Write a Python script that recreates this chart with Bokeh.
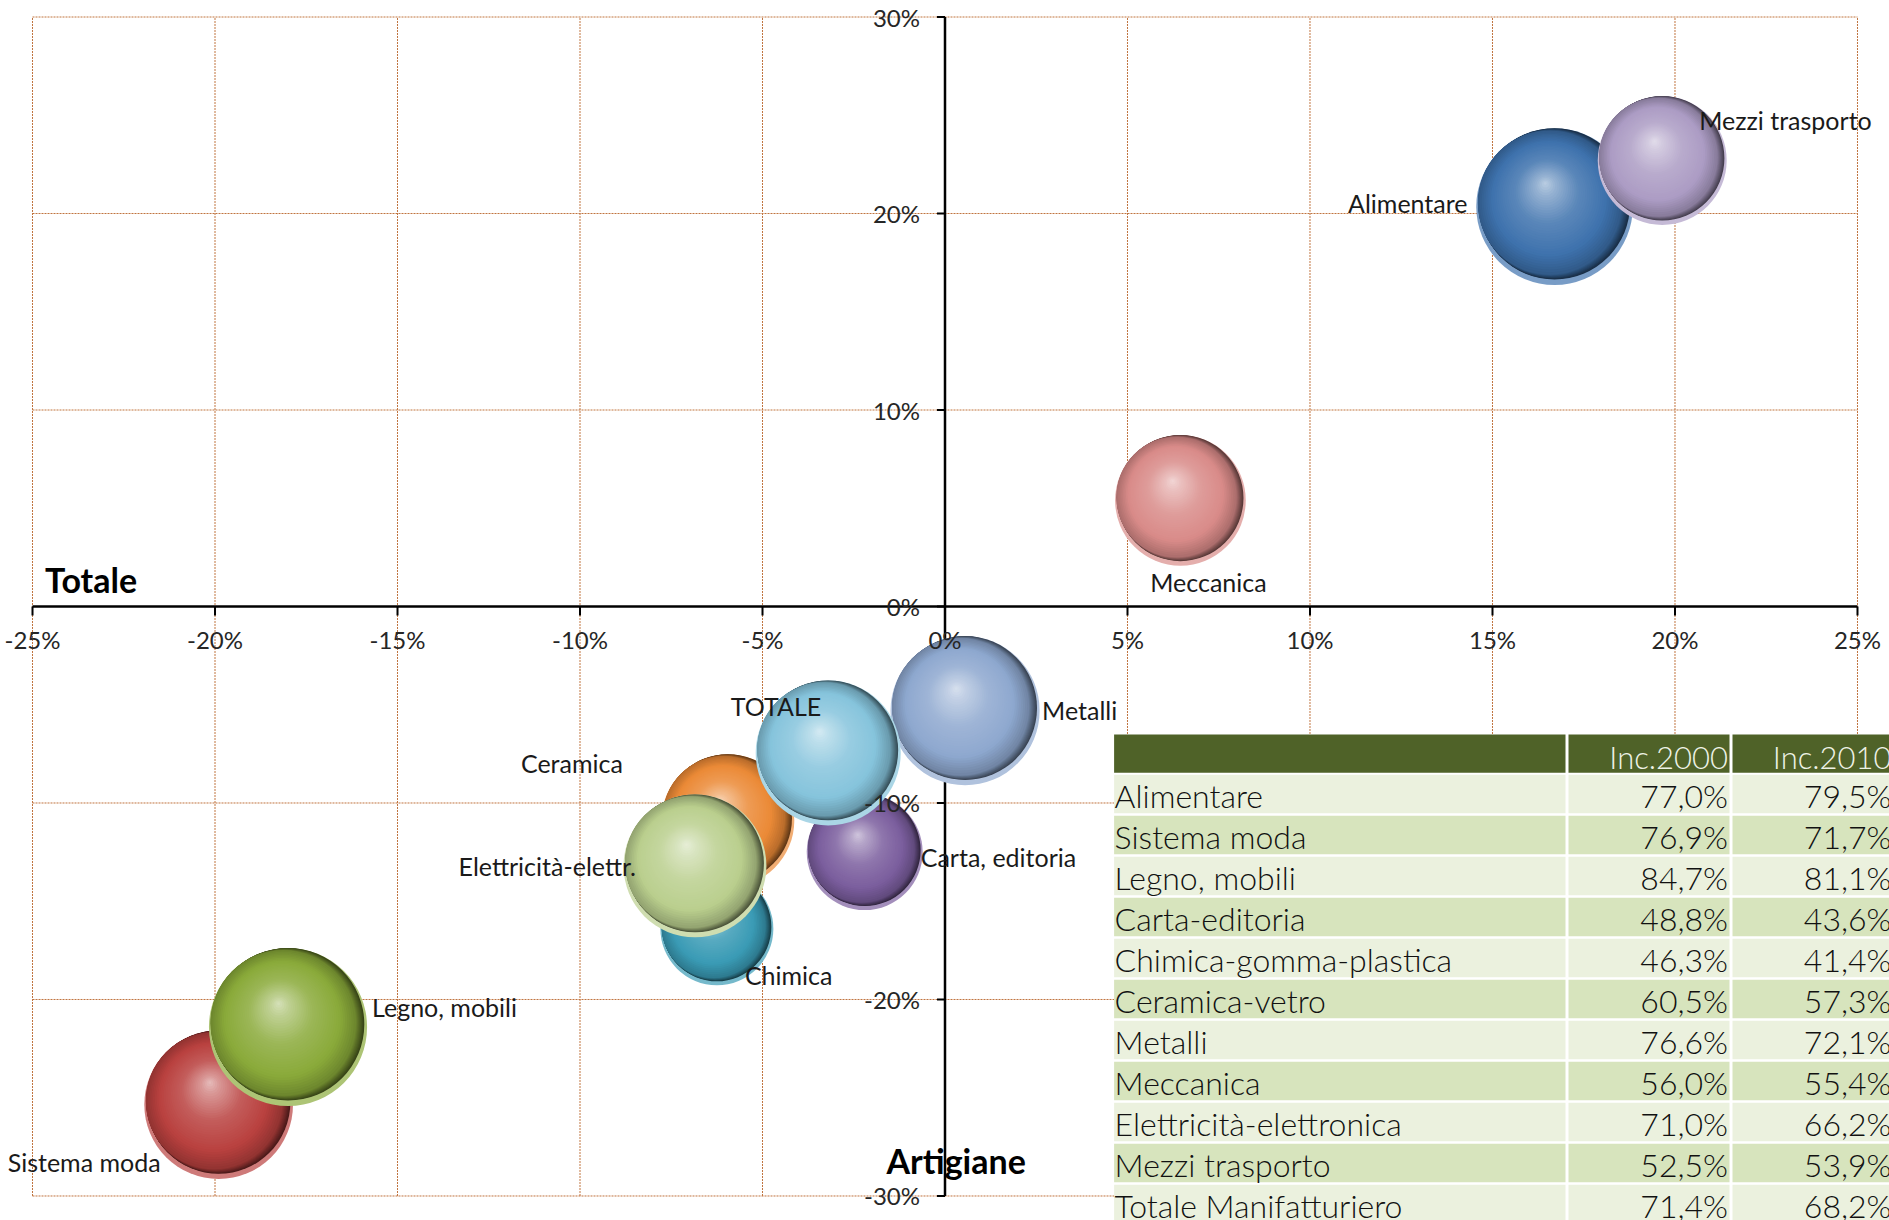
import numpy as np
from bokeh.plotting import figure
from bokeh.models import Range1d, ColumnDataSource
from bokeh.embed import file_html
from bokeh.resources import INLINE
from bokeh.core.properties import value

# ---------------- data ----------------
sectors = ["Alimentare", "Sistema moda", "Legno, mobili", "Carta, editoria", "Chimica",
           "Ceramica", "Metalli", "Meccanica", "Elettricità-elettr.", "Mezzi trasporto", "TOTALE"]
var_totale = [16.7, -19.9, -18.0, -2.2, -6.25, -5.95, 0.55, 6.45, -6.85, 19.65, -3.2]
var_artigiane = [20.35, -25.35, -21.4, -12.5, -16.4, -10.9, -5.3, 5.4, -13.2, 22.7, -7.45]

table_sectors = ["Alimentare", "Sistema moda", "Legno, mobili", "Carta-editoria",
                 "Chimica-gomma-plastica", "Ceramica-vetro", "Metalli", "Meccanica",
                 "Elettricità-elettronica", "Mezzi trasporto", "Totale Manifatturiero"]
inc_2000 = [77.0, 76.9, 84.7, 48.8, 46.3, 60.5, 76.6, 56.0, 71.0, 52.5, 71.4]
inc_2010 = [79.5, 71.7, 81.1, 43.6, 41.4, 57.3, 72.1, 55.4, 66.2, 53.9, 68.2]
table_header = ["", "Inc.2000", "Inc.2010"]

x_ticks = [-25, -20, -15, -10, -5, 0, 5, 10, 15, 20, 25]
y_ticks = [-30, -20, -10, 0, 10, 20, 30]
x_tick_labels = ["-25%", "-20%", "-15%", "-10%", "-5%", "0%", "5%", "10%", "15%", "20%", "25%"]
y_tick_labels = ["-30%", "-20%", "-10%", "0%", "10%", "20%", "30%"]
x_title = "Totale"
y_title = "Artigiane"

# ---------------- style ----------------
bubble_colors = ["#3E72AD", "#B9413F", "#8AAA3A", "#7B5E9E", "#3A9BB5", "#EB8A37",
                 "#8EA8CF", "#D98B89", "#BACF8E", "#AC9CC4", "#86C4DC"]
# label offsets in screen px (dx right, dy down) and alignment
label_dx = [-87, -58, 84, 56, 28, -105, 77, 28, -59, 37, -7]
label_dy = [-4, 57, -20, 5, 46, -58, -1, 82, 0, -40, -47]
label_align = ["right", "right", "left", "left", "left", "right", "left", "center", "right", "left", "right"]

W, H = 1889, 1220
X0, X1 = -25.877, 25.877
Y0, Y1 = -31.247, 30.840
ppx = W / (X1 - X0)
ppy = H / (Y1 - Y0)
K = 8.78  # px radius per sqrt(size)

FONT = value("Lato")
THIN = value("Lato Light, Lato")
GRID = "#C0743F"

p = figure(width=W, height=H, x_range=Range1d(X0, X1), y_range=Range1d(Y0, Y1),
           output_backend="svg", toolbar_location=None, x_axis_type=None, y_axis_type=None,
           min_border=0, outline_line_color=None)
p.background_fill_color = "white"
p.border_fill_color = "white"
p.extra_x_ranges = {"px": Range1d(0, W)}
p.extra_y_ranges = {"px": Range1d(H, 0)}

# gridlines
gx = [t for t in x_ticks if t != 0]
gy = [t for t in y_ticks if t != 0]
p.segment(x0=gx, y0=[y_ticks[0]] * len(gx), x1=gx, y1=[y_ticks[-1]] * len(gx),
          line_color=GRID, line_width=1, line_dash="2 1")
p.segment(x0=[x_ticks[0]] * len(gy), y0=gy, x1=[x_ticks[-1]] * len(gy), y1=gy,
          line_color=GRID, line_width=1, line_dash="2 1")

# axis lines and ticks
p.segment(x0=[x_ticks[0]], y0=[0], x1=[x_ticks[-1]], y1=[0], line_color="black", line_width=2.5)
p.segment(x0=[0], y0=[y_ticks[0]], x1=[0], y1=[y_ticks[-1]], line_color="black", line_width=2.5)
p.segment(x0=x_ticks, y0=[0] * len(x_ticks), x1=x_ticks, y1=[-9 / ppy] * len(x_ticks),
          line_color="black", line_width=2)
p.segment(x0=[0] * len(y_ticks), y0=y_ticks, x1=[-8 / ppx] * len(y_ticks), y1=y_ticks,
          line_color="black", line_width=2)


# bubbles as shaded spheres (focal radial gradient built from stacked discs)
def h2a(c):
    return np.array([int(c[i:i + 2], 16) for i in (1, 3, 5)], float)


def a2h(a):
    a = np.clip(a, 0, 255)
    return "#%02x%02x%02x" % tuple(int(round(v)) for v in a)


def mix(a, b, t):
    return a + (b - a) * t


WHITE = np.array([255.0, 255, 255])
BLACK = np.array([0.0, 0, 0])


def grad(base, s):
    stops = [(0.0, mix(base, WHITE, 0.66)), (0.15, mix(base, WHITE, 0.45)),
             (0.45, mix(base, WHITE, 0.15)), (0.8, base),
             (1.0, mix(base, BLACK, 0.2))]
    for (s0, c0), (s1, c1) in zip(stops[:-1], stops[1:]):
        if s <= s1:
            return mix(c0, c1, (s - s0) / (s1 - s0))
    return stops[-1][1]


N, M = 36, 8
bx, by, bs, bc = [], [], [], []


def disc(x, y, r, c):
    bx.append(x); by.append(y); bs.append(2 * r); bc.append(a2h(c))


for xi, yi, v, col in zip(var_totale, var_artigiane, inc_2010, bubble_colors):
    R = K * np.sqrt(v)
    base = h2a(col)
    # light reflected rim at the bottom
    disc(xi, yi, R, mix(base, WHITE, 0.3))
    # dark crescent (right / bottom) blending into the lit body
    dx0, dy0, r0 = 0.0, 0.035 * R, 0.965 * R
    dx1, dy1, r1 = -0.06 * R, 0.05 * R, 0.92 * R
    dark, edge = mix(base, BLACK, 0.6), mix(base, BLACK, 0.2)
    for k in range(M):
        t = k / M
        disc(xi + mix(dx0, dx1, t) / ppx, yi + mix(dy0, dy1, t) / ppy,
             mix(r0, r1, t), mix(dark, edge, t))
    # lit body with a soft highlight toward the upper left
    fx, fy = xi - 0.12 * R / ppx, yi + 0.30 * R / ppy
    c2x, c2y = xi + dx1 / ppx, yi + dy1 / ppy
    for s in np.linspace(1.0, 0.02, N):
        disc(fx + s * (c2x - fx), fy + s * (c2y - fy), s * r1, grad(base, s))
src = ColumnDataSource(dict(x=bx, y=by, s=bs, c=bc))
p.scatter("x", "y", size="s", fill_color="c", line_color=None, source=src)

# tick labels
TICK_COLOR = "#262626"
p.text(x=x_ticks, y=[0] * len(x_ticks), text=x_tick_labels, y_offset=33,
       text_align="center", text_baseline="middle", text_font=FONT,
       text_font_size="24px", text_color=TICK_COLOR)
p.text(x=[0] * len(y_ticks), y=y_ticks, text=y_tick_labels, x_offset=-25,
       text_align="right", text_baseline="middle", text_font=FONT,
       text_font_size="24px", text_color=TICK_COLOR)

# bubble labels
for al in ("left", "right", "center"):
    idx = [i for i, a in enumerate(label_align) if a == al]
    if not idx:
        continue
    p.text(x=[var_totale[i] for i in idx], y=[var_artigiane[i] for i in idx],
           text=[sectors[i] for i in idx],
           x_offset=[label_dx[i] for i in idx], y_offset=[label_dy[i] for i in idx],
           text_align=al, text_baseline="middle", text_font=FONT,
           text_font_size="25px", text_color="#1a1a1a")

# axis titles (screen px)
p.text(x=[44.6], y=[579], text=[x_title], x_range_name="px", y_range_name="px",
       text_align="left", text_baseline="middle", text_font=FONT,
       text_font_size="34px", text_font_style="bold", text_color="black")
p.text(x=[886], y=[1160], text=[y_title], x_range_name="px", y_range_name="px",
       text_align="left", text_baseline="middle", text_font=FONT,
       text_font_size="34px", text_font_style="bold", text_color="black")

# table (screen px)
col_l = [1113.6, 1568.0, 1732.0]
col_r = [1565.0, 1729.0, 1920.0]
head_top, head_bot = 734.0, 772.3
row0, pitch, row_h = 774.3, 41.0, 38.4
n = len(table_sectors)
p.quad(left=[col_l[0]], right=[W + 10], top=[head_top], bottom=[H + 10],
       x_range_name="px", y_range_name="px", fill_color="white", line_color=None)
p.quad(left=col_l, right=col_r, top=[head_top] * 3, bottom=[head_bot] * 3,
       x_range_name="px", y_range_name="px", fill_color="#4F6228", line_color=None)
ql, qr, qt, qb, qc = [], [], [], [], []
for k in range(n):
    top = row0 + pitch * k
    for j in range(3):
        ql.append(col_l[j]); qr.append(col_r[j]); qt.append(top); qb.append(top + row_h)
        qc.append("#EBF1DE" if k % 2 == 0 else "#D7E4BD")
p.quad(left=ql, right=qr, top=qt, bottom=qb, fill_color=qc, line_color=None,
       x_range_name="px", y_range_name="px")

p.text(x=[col_r[1] - 1.5, 1891], y=[head_top + 22] * 2, text=table_header[1:],
       x_range_name="px", y_range_name="px", text_align="right", text_baseline="middle",
       text_font=THIN, text_font_size="31px", text_color="#EEF2E6")
ty = [row0 + pitch * k + 21 for k in range(n)]
p.text(x=[col_l[0] + 0.5] * n, y=ty, text=table_sectors, x_range_name="px", y_range_name="px",
       text_align="left", text_baseline="middle", text_font=THIN,
       text_font_size="32px", text_color="#111111")
fmt = lambda v: ("%.1f" % v).replace(".", ",") + "%"
p.text(x=[col_r[1] - 1.5] * n, y=ty, text=[fmt(v) for v in inc_2000], x_range_name="px",
       y_range_name="px", text_align="right", text_baseline="middle", text_font=THIN,
       text_font_size="32px", text_color="#111111")
p.text(x=[1891] * n, y=ty, text=[fmt(v) for v in inc_2010], x_range_name="px",
       y_range_name="px", text_align="right", text_baseline="middle", text_font=THIN,
       text_font_size="32px", text_color="#111111")

open("out.html", "w").write(file_html(p, INLINE))
